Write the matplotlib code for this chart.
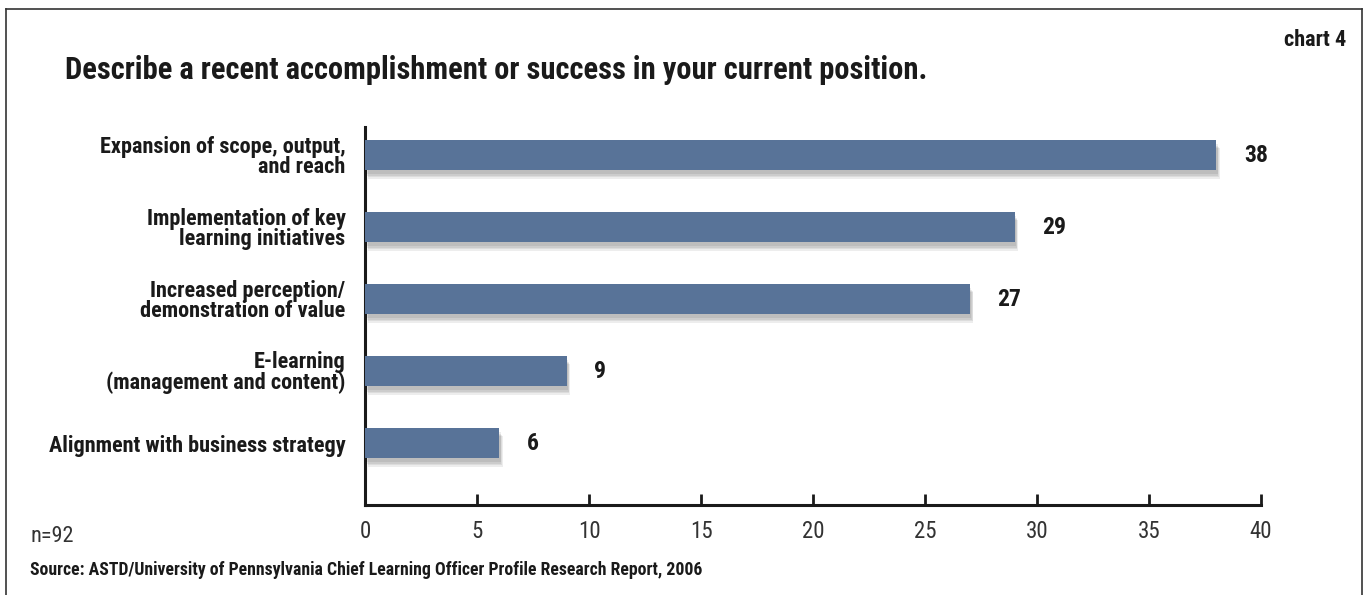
import matplotlib
matplotlib.use("Agg")
import matplotlib.pyplot as plt
import matplotlib.patheffects as pe
from matplotlib.lines import Line2D

categories = [
    "Expansion of scope, output,\nand reach",
    "Implementation of key\nlearning initiatives",
    "Increased perception/\ndemonstration of value",
    "E-learning\n(management and content)",
    "Alignment with business strategy",
]
values = [38, 29, 27, 9, 6]
xticks = [0, 5, 10, 15, 20, 25, 30, 35, 40]

FONT = ["Roboto Condensed", "Archivo Narrow", "Liberation Sans", "DejaVu Sans"]
plt.rcParams["font.family"] = FONT

W, H = 1369, 595
fig = plt.figure(figsize=(W / 100, H / 100), dpi=100)
fig.patch.set_facecolor("white")

# axes placement in figure pixels
ax_l, ax_r, ax_t, ax_b = 365, 1261, 127, 505
ax = fig.add_axes([ax_l / W, 1 - ax_b / H, (ax_r - ax_l) / W, (ax_b - ax_t) / H])

ypos = list(range(len(values)))
bar_color = "#587398"
shadow = [pe.SimplePatchShadow(offset=(d * 0.5, -d - 1), shadow_rgbFace="#000000", alpha=0.07)
          for d in (5, 4, 3, 2)]
ax.barh(ypos, values, height=0.42, color=bar_color, zorder=3,
        path_effects=shadow + [pe.Normal()])

for y, v in zip(ypos, values):
    ax.annotate(str(v), xy=(v, y), xytext=(20, 0), textcoords="offset points",
                ha="left", va="center", fontsize=17, fontweight="bold", color="#1a1a1a")

ax.set_xlim(0, 40)
ax.set_ylim(4.86, -0.39)
ax.set_xticks(xticks)
ax.set_xticklabels([str(t) for t in xticks], fontsize=16.5, color="#333333")
ax.set_yticks(ypos)
ax.set_yticklabels(categories, fontsize=16, fontweight="bold", color="#1a1a1a",
                   linespacing=0.92)
ax.tick_params(axis="y", length=0, pad=14)
ax.tick_params(axis="x", direction="in", length=8, width=2, color="#1a1a1a", pad=11)
for s in ("top", "right"):
    ax.spines[s].set_visible(False)
for s in ("left", "bottom"):
    ax.spines[s].set_linewidth(2.2)
    ax.spines[s].set_color("#1a1a1a")
ax.set_facecolor("none")

# frame around the figure
def px(x, y):
    return x / W, 1 - y / H

for (x0, y0), (x1, y1) in [((6, 9), (1362, 9)), ((6, 9), (6, 595)), ((1362, 9), (1362, 595))]:
    a, b = px(x0, y0)
    c, d = px(x1, y1)
    fig.add_artist(Line2D([a, c], [b, d], color="#333333", linewidth=1.2))

fig.text(65 / W, 1 - 70 / H, "Describe a recent accomplishment or success in your current position.",
         fontsize=22, fontweight="bold", color="#1a1a1a", ha="left", va="center")
fig.text(1346 / W, 1 - 40 / H, "chart 4", fontsize=16, fontweight="bold",
         color="#1a1a1a", ha="right", va="center")
fig.text(30 / W, 1 - 537 / H, "n=92", fontsize=16, color="#333333", ha="left", va="center")
fig.text(30 / W, 1 - 570 / H,
         "Source: ASTD/University of Pennsylvania Chief Learning Officer Profile Research Report, 2006",
         fontsize=12.8, fontweight="bold", color="#1a1a1a", ha="left", va="center")

fig.savefig("out.png", dpi=100, facecolor="white")
